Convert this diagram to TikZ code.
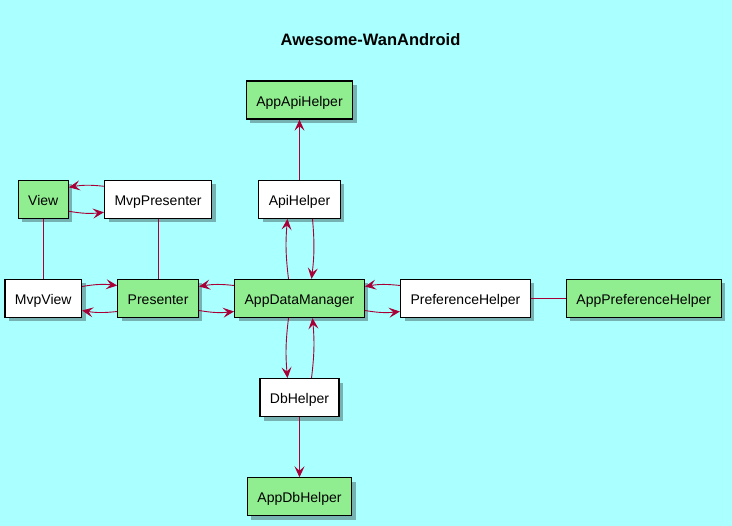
\documentclass[tikz,border=0pt]{standalone}
\usepackage{fontspec}
\setmainfont{Liberation Sans}
\usepackage{xcolor}
\usetikzlibrary{arrows.meta, positioning, calc, shadows}
\definecolor{bgcyan}{HTML}{AAFFFF}
\definecolor{appgreen}{HTML}{90EE90}
\definecolor{linkred}{HTML}{A80036}

\begin{document}
\begin{tikzpicture}[
    x=1pt, y=1pt,
    node distance=60pt and 35pt,
    box/.style={rectangle, draw, line width=1.2pt, fill=white, minimum height=38pt, inner xsep=10pt, text height=12pt, text depth=0pt, font=\fontsize{14}{16}\selectfont, drop shadow={shadow xshift=4pt, shadow yshift=-4pt, fill=black, opacity=0.3}},
    arrow/.style={-{Stealth[length=11pt, width=10pt, inset=4.5pt]}, linkred, line width=0.9pt},
    link/.style={linkred, line width=0.9pt}
]

% Background
\fill[bgcyan] (0,0) rectangle (732,526);
\useasboundingbox (0,0) rectangle (732,526);

% Nodes
\node[font=\bfseries\fontsize{16.5}{19}\selectfont] (title) at (370.5,486) {Awesome-WanAndroid};
\node[box, fill=appgreen] (datamanager) at (299.5,227.5) {AppDataManager};
\node[box, fill=appgreen, left=of datamanager] (presenter) {Presenter};
\node[box, left=of presenter] (mvpview) {MvpView};
\node[box, above=of mvpview, fill=appgreen] (view) {View};
\node[box, above=of presenter] (mvppresenter) {MvpPresenter};
\node[box, above=of datamanager] (apihelper) {ApiHelper};
\node[box, fill=appgreen, above=of apihelper] (appapihelper) {AppApiHelper};
\node[box, right=of datamanager] (prefhelper) {PreferenceHelper};
\node[box, fill=appgreen, right=of prefhelper] (appprefhelper) {AppPreferenceHelper};
\node[box, below=of datamanager] (dbhelper) {DbHelper};
\node[box, fill=appgreen, below=of dbhelper] (appdbhelper) {AppDbHelper};

% Arrows
\draw[link] (view) -- (mvpview);
\draw[link] (mvppresenter) -- (presenter);
\draw[link] (prefhelper) -- (appprefhelper);
\draw[arrow] (apihelper) -- (appapihelper);
\draw[arrow] (dbhelper) -- (appdbhelper);
\draw[arrow] ([yshift=13pt]mvppresenter.west) to[bend right=8] ([yshift=12pt]view.east);
\draw[arrow] ([yshift=-12pt]view.east) to[bend right=8] ([yshift=-13pt]mvppresenter.west);
\draw[arrow] ([yshift=12pt]mvpview.east) to[bend left=8] ([yshift=13pt]presenter.west);
\draw[arrow] ([yshift=-13pt]presenter.west) to[bend left=8] ([yshift=-12pt]mvpview.east);
\draw[arrow] ([yshift=13pt]datamanager.west) to[bend right=8] ([yshift=12pt]presenter.east);
\draw[arrow] ([yshift=-12pt]presenter.east) to[bend right=8] ([yshift=-13pt]datamanager.west);
\draw[arrow] ([yshift=13pt]prefhelper.west) to[bend right=8] ([yshift=12pt]datamanager.east);
\draw[arrow] ([yshift=-12pt]datamanager.east) to[bend right=8] ([yshift=-13pt]prefhelper.west);
\draw[arrow] ([xshift=-11pt]datamanager.north) to[bend left=6] ([xshift=-12pt]apihelper.south);
\draw[arrow] ([xshift=13pt]apihelper.south) to[bend left=6] ([xshift=12pt]datamanager.north);
\draw[arrow] ([xshift=-11pt]datamanager.south) to[bend right=6] ([xshift=-12pt]dbhelper.north);
\draw[arrow] ([xshift=12pt]dbhelper.north) to[bend right=6] ([xshift=13pt]datamanager.south);

\end{tikzpicture}
\end{document}
